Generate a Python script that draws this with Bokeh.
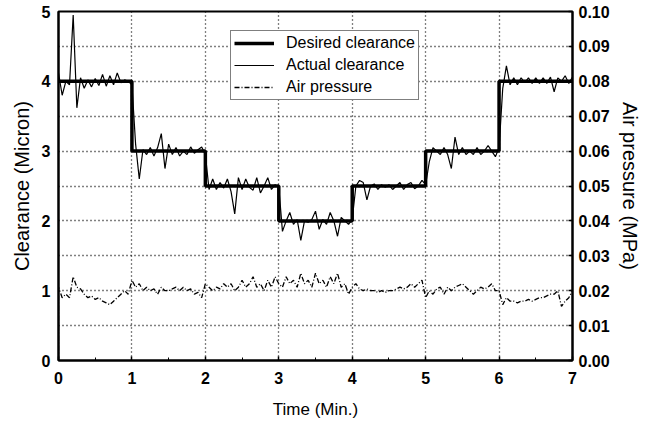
from bokeh.plotting import figure
from bokeh.models import Range1d, LinearAxis, FixedTicker, Legend, LegendItem, PrintfTickFormatter
from bokeh.embed import file_html
from bokeh.resources import INLINE

# ---- data ----
step_times = [0, 1, 2, 3, 4, 5, 6, 7]
desired_levels = [4, 3, 2.5, 2, 2.5, 3, 4]

time_min = [round(i * 0.05, 2) for i in range(141)]

actual_clearance = [
    4.12, 3.80, 4.00, 3.95, 4.95, 3.62, 4.05, 3.90, 4.02, 3.92,
    4.04, 3.94, 4.10, 3.93, 4.08, 3.95, 4.12, 3.98, 4.02, 4.00,
    3.95, 3.10, 2.60, 3.02, 2.95, 3.05, 2.93, 3.05, 3.25, 2.75,
    3.10, 2.95, 3.05, 2.93, 3.00, 2.95, 3.06, 2.97, 3.02, 3.06,
    2.95, 2.45, 2.60, 2.45, 2.55, 2.47, 2.60, 2.42, 2.10, 2.62,
    2.45, 2.60, 2.48, 2.44, 2.62, 2.40, 2.50, 2.62, 2.45, 2.52,
    2.48, 1.85, 2.00, 2.12, 1.95, 2.02, 1.72, 2.00, 1.98, 2.02,
    2.14, 1.88, 2.02, 1.95, 2.12, 2.00, 1.78, 2.05, 2.00, 1.95,
    2.02, 2.50, 2.58, 2.55, 2.30, 2.50, 2.53, 2.45, 2.52, 2.48,
    2.52, 2.45, 2.50, 2.55, 2.45, 2.52, 2.55, 2.46, 2.50, 2.58,
    2.52, 2.85, 3.05, 3.00, 2.95, 3.05, 2.95, 2.75, 3.20, 2.95,
    3.05, 2.95, 3.00, 2.95, 3.05, 2.95, 3.00, 3.08, 3.00, 2.92,
    3.05, 3.90, 4.22, 3.95, 4.05, 3.95, 4.05, 3.98, 4.05, 3.97,
    4.05, 3.97, 4.05, 3.97, 4.06, 3.85, 4.05, 4.00, 4.08, 3.97,
    4.06,
]

air_start = 0.0
air_pressure = [
    0.021, 0.018, 0.019, 0.018, 0.024, 0.021, 0.0205, 0.019, 0.018, 0.0185,
    0.0175, 0.018, 0.017, 0.0165, 0.016, 0.017, 0.018, 0.019, 0.020, 0.019,
    0.023, 0.021, 0.022, 0.020, 0.021, 0.020, 0.0205, 0.019, 0.021, 0.020,
    0.020, 0.0205, 0.021, 0.020, 0.021, 0.020, 0.0205, 0.019, 0.0195, 0.018,
    0.022, 0.021, 0.020, 0.021, 0.0205, 0.022, 0.021, 0.022, 0.020, 0.021,
    0.023, 0.021, 0.022, 0.024, 0.021, 0.022, 0.020, 0.023, 0.021, 0.024,
    0.022, 0.021, 0.024, 0.022, 0.023, 0.021, 0.025, 0.022, 0.023, 0.021,
    0.025, 0.022, 0.023, 0.021, 0.024, 0.022, 0.025, 0.021, 0.022, 0.019,
    0.021, 0.022, 0.0205, 0.020, 0.0205, 0.020, 0.020, 0.0195, 0.020, 0.0195,
    0.020, 0.020, 0.0205, 0.021, 0.0205, 0.021, 0.022, 0.021, 0.022, 0.023,
    0.018, 0.020, 0.019, 0.0205, 0.021, 0.019, 0.021, 0.020, 0.021, 0.0215,
    0.022, 0.021, 0.020, 0.019, 0.020, 0.021, 0.0205, 0.021, 0.022, 0.020,
    0.020, 0.016, 0.018, 0.017, 0.017, 0.0165, 0.017, 0.017, 0.0175, 0.017,
    0.0175, 0.018, 0.018, 0.0185, 0.019, 0.019, 0.020, 0.0155, 0.017, 0.018,
    0.020,
]

x_ticks = [0, 1, 2, 3, 4, 5, 6, 7]
y_ticks = [0, 1, 2, 3, 4, 5]
p_ticks = [0.00, 0.01, 0.02, 0.03, 0.04, 0.05, 0.06, 0.07, 0.08, 0.09, 0.10]

FONT = "Liberation Sans"

p = figure(width=645, height=421, x_range=Range1d(0, 7), y_range=Range1d(0, 5),
           output_backend="svg", toolbar_location=None,
           min_border_left=58, min_border_right=73, min_border_top=11, min_border_bottom=59)
p.extra_y_ranges = {"press": Range1d(0, 0.1)}
p.outline_line_color = "black"
p.outline_line_width = 2
p.background_fill_color = "white"
p.border_fill_color = "white"

# grids
p.xgrid.ticker = FixedTicker(ticks=[1, 2, 3, 4, 5, 6])
p.ygrid.ticker = FixedTicker(ticks=[0.5, 1, 1.5, 2, 2.5, 3, 3.5, 4, 4.5])
for g in (p.xgrid[0], p.ygrid[0]):
    g.grid_line_color = "black"
    g.grid_line_dash = "1 3"
    g.grid_line_width = 1.3

# left axis
ya = p.yaxis[0]
ya.ticker = FixedTicker(ticks=y_ticks)
ya.axis_label = "Clearance (Micron)"
ya.major_tick_in = 0
ya.major_tick_out = 0
ya.minor_tick_in = 0
ya.minor_tick_out = 0
ya.major_label_standoff = 8

# bottom axis
xa = p.xaxis[0]
xa.ticker = FixedTicker(ticks=x_ticks, minor_ticks=[0.5, 1.5, 2.5, 3.5, 4.5, 5.5, 6.5])
xa.axis_label = "Time (Min.)"
xa.major_tick_in = 4
xa.major_tick_out = 0
xa.minor_tick_in = 3
xa.minor_tick_out = 0
xa.major_label_standoff = 11
xa.axis_label_standoff = 13

# right axis
ra = LinearAxis(y_range_name="press", axis_label="Air pressure (MPa)")
ra.ticker = FixedTicker(ticks=p_ticks)
ra.formatter = PrintfTickFormatter(format="%.2f")
ra.major_tick_in = 4
ra.major_tick_out = 0
ra.minor_tick_in = 0
ra.minor_tick_out = 0
ra.major_label_standoff = 6
p.add_layout(ra, "right")

for ax in (xa, ya, ra):
    ax.axis_line_color = "black"
    ax.axis_line_width = 2
    ax.major_tick_line_color = "black"
    ax.major_tick_line_width = 1.5
    ax.minor_tick_line_color = "black"
    ax.major_label_text_font = FONT
    ax.major_label_text_font_style = "bold"
    ax.major_label_text_font_size = "16px"
    ax.major_label_text_color = "black"
    ax.axis_label_text_font = FONT
    ax.axis_label_text_font_style = "normal"
    ax.axis_label_text_color = "black"
xa.axis_label_text_font_size = "17px"
ya.axis_label_text_font_size = "20px"
ra.axis_label_text_font_size = "20px"
ya.axis_label_standoff = 6
ra.axis_label_standoff = 6

# desired step line built from levels
dx, dy = [], []
for i, lvl in enumerate(desired_levels):
    dx += [step_times[i], step_times[i + 1]]
    dy += [lvl, lvl]

r_air = p.line([0.0] + time_min, [air_start] + air_pressure, y_range_name="press",
               line_color="black", line_width=1.3, line_dash="5 2 1 2")
r_act = p.line(time_min, actual_clearance, line_color="black", line_width=1.2)
r_des = p.line(dx, dy, line_color="black", line_width=3.5)

legend = Legend(items=[LegendItem(label="Desired clearance", renderers=[r_des]),
                       LegendItem(label="Actual clearance", renderers=[r_act]),
                       LegendItem(label="Air pressure", renderers=[r_air])],
                location=(172, 260))
legend.border_line_color = "black"
legend.border_line_width = 1.5
legend.background_fill_color = "white"
legend.background_fill_alpha = 1
legend.label_text_font = FONT
legend.label_text_font_size = "16px"
legend.label_text_color = "black"
legend.glyph_width = 40
legend.glyph_height = 16
legend.label_height = 16
legend.label_standoff = 12
legend.spacing = 4
legend.padding = 3
legend.margin = 0
p.add_layout(legend, "center")

open("out.html", "w").write(file_html(p, INLINE))
